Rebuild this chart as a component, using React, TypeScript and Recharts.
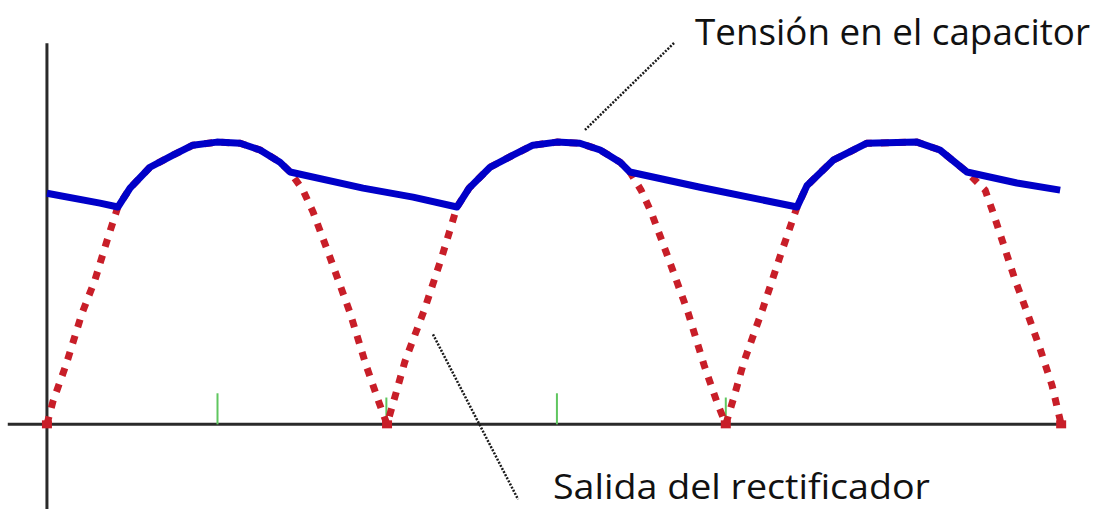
import { LineChart, Line, XAxis, YAxis, ReferenceLine } from 'recharts';

// time in ms, voltage in V (peak = 10)
const rectifierTime = [
  0, 0.18, 0.56, 1.04, 1.42, 1.81, 2.1, 2.46, 3.05, 3.73, 4.32, 5.03, 5.72, 6.31, 6.9, 7.2,
  7.58, 7.88, 8.38, 8.97, 9.45, 9.83, 10.07,
  10.3, 10.6, 11.19, 11.7, 12.14, 12.5, 13.12, 13.8, 14.39, 15.1, 15.78, 16.38, 16.97, 17.26,
  17.59, 17.89, 18.39, 18.98, 19.46, 19.84, 20.1,
  20.34, 20.64, 21.2, 21.71, 22.21, 22.5, 23.28, 24.28, 25.76, 26.44, 27.24,
  27.39, 27.78, 28.01, 28.66, 29.02, 29.4, 29.76, 30.03,
];
const rectifierVolts = [
  0, 0.82, 2.09, 3.94, 5.11, 6.63, 7.7, 8.37, 9.11, 9.54, 9.89, 10, 9.96, 9.72, 9.29, 8.94,
  8.3, 7.52, 5.92, 3.97, 2.09, 0.78, 0,
  0.96, 2.23, 4.11, 5.96, 7.7, 8.37, 9.11, 9.54, 9.89, 10, 9.96, 9.72, 9.29, 8.94,
  8.3, 7.52, 5.92, 3.97, 2.09, 0.78, 0,
  0.96, 2.23, 4.11, 5.96, 7.7, 8.45, 9.36, 9.96, 10, 9.72, 8.94,
  8.76, 8.3, 7.52, 5.14, 3.97, 2.7, 1.38, 0,
];

const capacitorTime = [
  0, 1.57, 2.1, 2.46, 3.05, 3.73, 4.32, 5.03, 5.72, 6.31, 6.9, 7.2, 9.36, 10.84,
  12.14, 12.5, 13.12, 13.8, 14.39, 15.1, 15.78, 16.38, 16.97, 17.26, 19.34,
  22.21, 22.5, 23.28, 24.28, 25.76, 26.44, 27.24, 28.72, 30.0,
];
const capacitorVolts = [
  8.19, 7.84, 7.7, 8.37, 9.11, 9.54, 9.89, 10, 9.96, 9.72, 9.29, 8.94, 8.37, 8.05,
  7.7, 8.37, 9.11, 9.54, 9.89, 10, 9.96, 9.72, 9.29, 8.94, 8.4,
  7.7, 8.45, 9.36, 9.96, 10, 9.72, 8.94, 8.55, 8.3,
];

const markTimes = [5.05, 10.05, 15.1, 20.1];
const markHeights = [1.1, 0.95, 1.1, 0.95];

const rectifierData = rectifierTime.map((t, i) => ({ t, v: rectifierVolts[i] }));
const capacitorData = capacitorTime.map((t, i) => ({ t, v: capacitorVolts[i] }));

const RED = '#c81e28';
const BLUE = '#0000c8';
const AXIS = '#2a2a2a';

function ZeroDot(props: any) {
  const { cx, cy, payload, index } = props;
  if (payload.v !== 0) return <g key={index} />;
  return <rect key={index} x={cx - 5} y={cy - 4} width={10} height={8} fill={RED} />;
}

export default function App() {
  return (
    <div style={{ position: 'absolute', left: 0, top: 0, width: 1100, height: 510, background: '#fff' }}>
      <LineChart width={1100} height={510} margin={{ top: 1, right: 0, bottom: 1, left: 0 }}>
        <XAxis type="number" dataKey="t" domain={[-1.39, 31.18]} hide allowDataOverflow />
        <YAxis type="number" dataKey="v" domain={[-3, 15]} hide allowDataOverflow />

        <ReferenceLine segment={[{ x: -1.16, y: 0 }, { x: 30, y: 0 }]} stroke={AXIS} strokeWidth={3} ifOverflow="visible" />
        <ReferenceLine segment={[{ x: 0, y: -3 }, { x: 0, y: 13.5 }]} stroke={AXIS} strokeWidth={3} ifOverflow="visible" />

        {markTimes.map((t, i) => (
          <ReferenceLine key={t} segment={[{ x: t, y: 0 }, { x: t, y: markHeights[i] }]} stroke="#5fc65f" strokeWidth={2} ifOverflow="visible" />
        ))}

        <Line
          data={rectifierData}
          dataKey="v"
          type="linear"
          stroke={RED}
          strokeWidth={7}
          strokeDasharray="8 9"
          dot={ZeroDot}
          activeDot={false}
          isAnimationActive={false}
        />
        <Line
          data={capacitorData}
          dataKey="v"
          type="linear"
          stroke={BLUE}
          strokeWidth={7}
          strokeLinejoin="round"
          dot={false}
          activeDot={false}
          isAnimationActive={false}
        />

        <ReferenceLine segment={[{ x: 15.93, y: 10.43 }, { x: 18.6, y: 13.55 }]} stroke="#1a1a1a" strokeWidth={2.5} strokeDasharray="2 1.5" ifOverflow="visible" />
        <ReferenceLine segment={[{ x: 11.43, y: 3.19 }, { x: 13.95, y: -2.66 }]} stroke="#1a1a1a" strokeWidth={2.5} strokeDasharray="2 1.5" ifOverflow="visible" />
      </LineChart>

      <svg width={1100} height={510} style={{ position: 'absolute', left: 0, top: 0, pointerEvents: 'none' }}>
        <text x={695} y={45} fontFamily="'Open Sans', sans-serif" fontSize={36} fill="#111" textLength={395} lengthAdjust="spacingAndGlyphs">
          Tensión en el capacitor
        </text>
        <text x={553} y={499} fontFamily="'Open Sans', sans-serif" fontSize={34} fill="#111" textLength={377} lengthAdjust="spacingAndGlyphs">
          Salida del rectificador
        </text>
      </svg>
    </div>
  );
}
